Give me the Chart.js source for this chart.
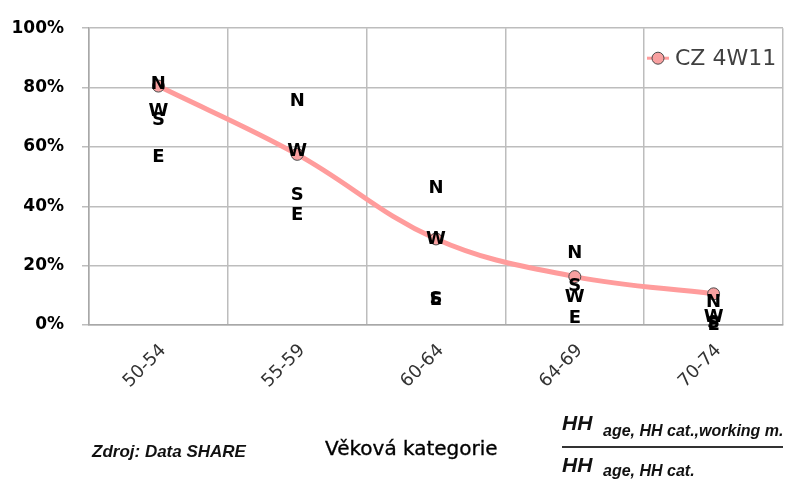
<!DOCTYPE html>
<html>
<head>
<meta charset="utf-8">
<script src="https://cdn.jsdelivr.net/npm/chart.js@4.4.1/dist/chart.umd.min.js"></script>
<style>
  html, body { margin: 0; padding: 0; background: #fff; }
  #wrap { position: relative; width: 786px; height: 479px; }
  #wrap canvas { position: absolute; left: 0; top: 0; }
  .note { position: absolute; white-space: nowrap; line-height: 1; color: #111; }
  .bi { font-family: "Liberation Sans", Arial, sans-serif; font-weight: bold; font-style: italic; }
</style>
</head>
<body>
<div id="wrap">
  <canvas id="chart" width="786" height="479"></canvas>
  <div class="note bi" style="left:92px; top:443px; font-size:17px;">Zdroj: Data SHARE</div>
  <div class="note" style="left:325px; top:438px; font-size:20px; font-family:'DejaVu Sans', sans-serif; color:#000; -webkit-text-stroke:0.35px #000;">Věková kategorie</div>
  <div class="note bi" style="left:562px; top:412px; font-size:21px;">HH</div>
  <div class="note bi" style="left:603px; top:423px; font-size:16px;">age, HH cat.,working m.</div>
  <div style="position:absolute; left:562px; top:446px; width:221px; height:2px; background:#333;"></div>
  <div class="note bi" style="left:562px; top:454px; font-size:21px;">HH</div>
  <div class="note bi" style="left:603px; top:463px; font-size:16px;">age, HH cat.</div>
</div>
<script>
// age groups on the x axis
const categories = ["50-54", "55-59", "60-64", "64-69", "70-74"];

// main series (percent)
const czValues = [80.5, 57.5, 29, 16.3, 10.5];

// letter-only series, shown as labels at their values
const nValues = [81, 75.5, 46, 24.3, 7.7];
const wValues = [72, 58.5, 29, 9.2, 2.7];
const sValues = [69, 43.6, 8.8, 13, 0.5];
const eValues = [56.4, 37, 8.3, 2.2, 0];

const yTicks = [0, 20, 40, 60, 80, 100];

const PINK = "#FF9C9C";

// draws the N/W/S/E series as bold letters at their points
const letterLabels = {
  id: "letterLabels",
  afterDatasetsDraw(chart) {
    const ctx = chart.ctx;
    ctx.save();
    ctx.font = "bold 18px 'DejaVu Sans'";
    ctx.fillStyle = "#000";
    ctx.textAlign = "center";
    ctx.textBaseline = "middle";
    chart.data.datasets.forEach((ds, i) => {
      if (!ds.letter) return;
      chart.getDatasetMeta(i).data.forEach(pt => {
        ctx.fillText(ds.label, pt.x, pt.y);
      });
    });
    ctx.restore();
  }
};

// legend box inside the plot, top right
const cornerLegend = {
  id: "cornerLegend",
  afterDraw(chart) {
    const ctx = chart.ctx;
    const a = chart.chartArea;
    const ds = chart.data.datasets[0];
    const cx = a.right - 125, cy = a.top + 30;
    ctx.save();
    ctx.strokeStyle = ds.borderColor;
    ctx.lineWidth = 3;
    ctx.beginPath();
    ctx.moveTo(cx - 11, cy);
    ctx.lineTo(cx + 11, cy);
    ctx.stroke();
    ctx.beginPath();
    ctx.arc(cx, cy, 6, 0, Math.PI * 2);
    ctx.fillStyle = ds.pointBackgroundColor;
    ctx.fill();
    ctx.lineWidth = 1;
    ctx.strokeStyle = ds.pointBorderColor;
    ctx.stroke();
    ctx.font = "22px 'DejaVu Sans'";
    ctx.fillStyle = "#404040";
    ctx.textAlign = "left";
    ctx.textBaseline = "middle";
    ctx.fillText(ds.label, cx + 17, cy + 1);
    ctx.restore();
  }
};

function letterSet(label, data) {
  return { label, data, letter: true, showLine: false, pointRadius: 0, pointHoverRadius: 0 };
}

new Chart(document.getElementById("chart"), {
  type: "line",
  data: {
    labels: categories,
    datasets: [
      {
        label: "CZ 4W11",
        data: czValues,
        borderColor: PINK,
        borderWidth: 5,
        tension: 0.38,
        pointRadius: 6,
        pointBackgroundColor: "#F8A0A0",
        pointBorderColor: "#4a4a4a",
        pointBorderWidth: 1
      },
      letterSet("N", nValues),
      letterSet("W", wValues),
      letterSet("S", sValues),
      letterSet("E", eValues)
    ]
  },
  options: {
    responsive: false,
    animation: false,
    layout: { autoPadding: false, padding: { top: 23, right: 3, bottom: 0, left: 0 } },
    plugins: {
      legend: { display: false },
      tooltip: { enabled: false }
    },
    scales: {
      x: {
        offset: true,
        grid: { offset: true, color: "#BDBDBD", lineWidth: 1.5, drawTicks: false },
        border: { color: "#A8A8A8", width: 1.5 },
        ticks: {
          minRotation: 45,
          maxRotation: 45,
          padding: 15,
          labelOffset: 5,
          color: "#333",
          font: { family: "DejaVu Sans", size: 18 }
        },
        afterFit: s => {
          s.height = 154;
          s.paddingLeft = 0;
          s.paddingRight = 0;
        }
      },
      y: {
        min: 0,
        max: 100,
        afterBuildTicks: s => { s.ticks = yTicks.map(v => ({ value: v })); },
        grid: { color: "#BDBDBD", lineWidth: 1.5, tickLength: 7 },
        border: { color: "#A8A8A8", width: 1.5 },
        ticks: {
          padding: 18,
          color: "#000",
          font: { family: "DejaVu Sans", size: 17, weight: "bold" },
          callback: v => v + "%"
        },
        afterFit: s => { s.width = 89; }
      }
    }
  },
  plugins: [letterLabels, cornerLegend]
});
</script>
</body>
</html>
